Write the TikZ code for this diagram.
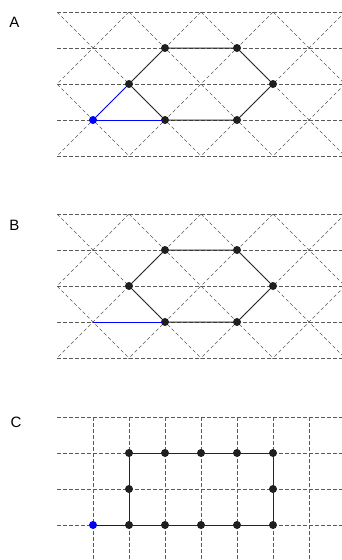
\documentclass[tikz,border=0pt]{standalone}
\usepackage{fontspec}
\setsansfont{Liberation Sans}
\begin{document}
\begin{tikzpicture}[x=1pt,y=-1pt,
  gridline/.style={draw=black!65,line width=0.65pt,dash pattern=on 3.5pt off 2.5pt},
  dot/.style={circle,fill=black!88,inner sep=0pt,minimum size=8pt},
  bdot/.style={circle,fill=blue,inner sep=0pt,minimum size=8pt},
  edge/.style={draw=black!85,line width=1pt},
  bedge/.style={draw=blue,line width=1pt},
  lab/.style={font=\sffamily\fontsize{15}{15}\selectfont,inner sep=0pt}]
\useasboundingbox (0,0) rectangle (342,560);
% ---------- Panel A ----------
\node[lab] (LA) at (14.5,22.5) {A};
\begin{scope}
  \clip (57,12) rectangle (342,156);
  \foreach \y in {12,48,84,120,156} \draw[gridline] (57,\y) -- (342,\y);
  \foreach \k in {-4,...,5} {
    \draw[gridline] ({45+72*\k-200},-200) -- ({45+72*\k+400},400);
    \draw[gridline] ({69+72*\k+200},-200) -- ({69+72*\k-400},400);
  }
\end{scope}
\node[dot] (a1) at (165,48) {};
\node[dot] (a2) at (237,48) {};
\node[dot] (a3) at (273,84) {};
\node[dot] (a4) at (237,120) {};
\node[dot] (a5) at (165,120) {};
\node[dot] (a6) at (129,84) {};
\node[bdot] (a0) at (93,120) {};
\draw[edge] (a1) -- (a2) -- (a3) -- (a4) -- (a5) -- (a6) -- (a1);
\draw[bedge] (a0) -- (a6);
\draw[bedge] (a0) -- (a5);
% ---------- Panel B ----------
\node[lab] (LB) at (14.5,225) {B};
\begin{scope}[yshift=-202pt]
  \clip (57,12) rectangle (342,156);
  \foreach \y in {12,48,84,120,156} \draw[gridline] (57,\y) -- (342,\y);
  \foreach \k in {-4,...,5} {
    \draw[gridline] ({45+72*\k-200},-200) -- ({45+72*\k+400},400);
    \draw[gridline] ({69+72*\k+200},-200) -- ({69+72*\k-400},400);
  }
\end{scope}
\node[dot] (b1) at (165,250) {};
\node[dot] (b2) at (237,250) {};
\node[dot] (b3) at (273,286) {};
\node[dot] (b4) at (237,322) {};
\node[dot] (b5) at (165,322) {};
\node[dot] (b6) at (129,286) {};
\coordinate (b0) at (93,322);
\draw[edge] (b1) -- (b2) -- (b3) -- (b4) -- (b5) -- (b6) -- (b1);
\draw[bedge] (b0) -- (b5);
% ---------- Panel C ----------
\node[lab] (LC) at (16,422) {C};
\foreach \y in {417,453,489,525} \draw[gridline] (57,\y) -- (342,\y);
\foreach \x in {93,129,165,201,237,273,309} \draw[gridline] (\x,417) -- (\x,560);
\node[dot] (c1) at (129,453) {};
\node[dot] (c2) at (165,453) {};
\node[dot] (c3) at (201,453) {};
\node[dot] (c4) at (237,453) {};
\node[dot] (c5) at (273,453) {};
\node[dot] (c6) at (273,489) {};
\node[dot] (c7) at (273,525) {};
\node[dot] (c8) at (237,525) {};
\node[dot] (c9) at (201,525) {};
\node[dot] (c10) at (165,525) {};
\node[dot] (c11) at (129,525) {};
\node[dot] (c12) at (129,489) {};
\node[bdot] (c0) at (93,525) {};
\draw[edge] (c1) -- (c2) -- (c3) -- (c4) -- (c5) -- (c6) -- (c7) -- (c8) -- (c9) -- (c10) -- (c11) -- (c12) -- (c1);
\draw[bedge] (c0) -- (c11);
\end{tikzpicture}
\end{document}
